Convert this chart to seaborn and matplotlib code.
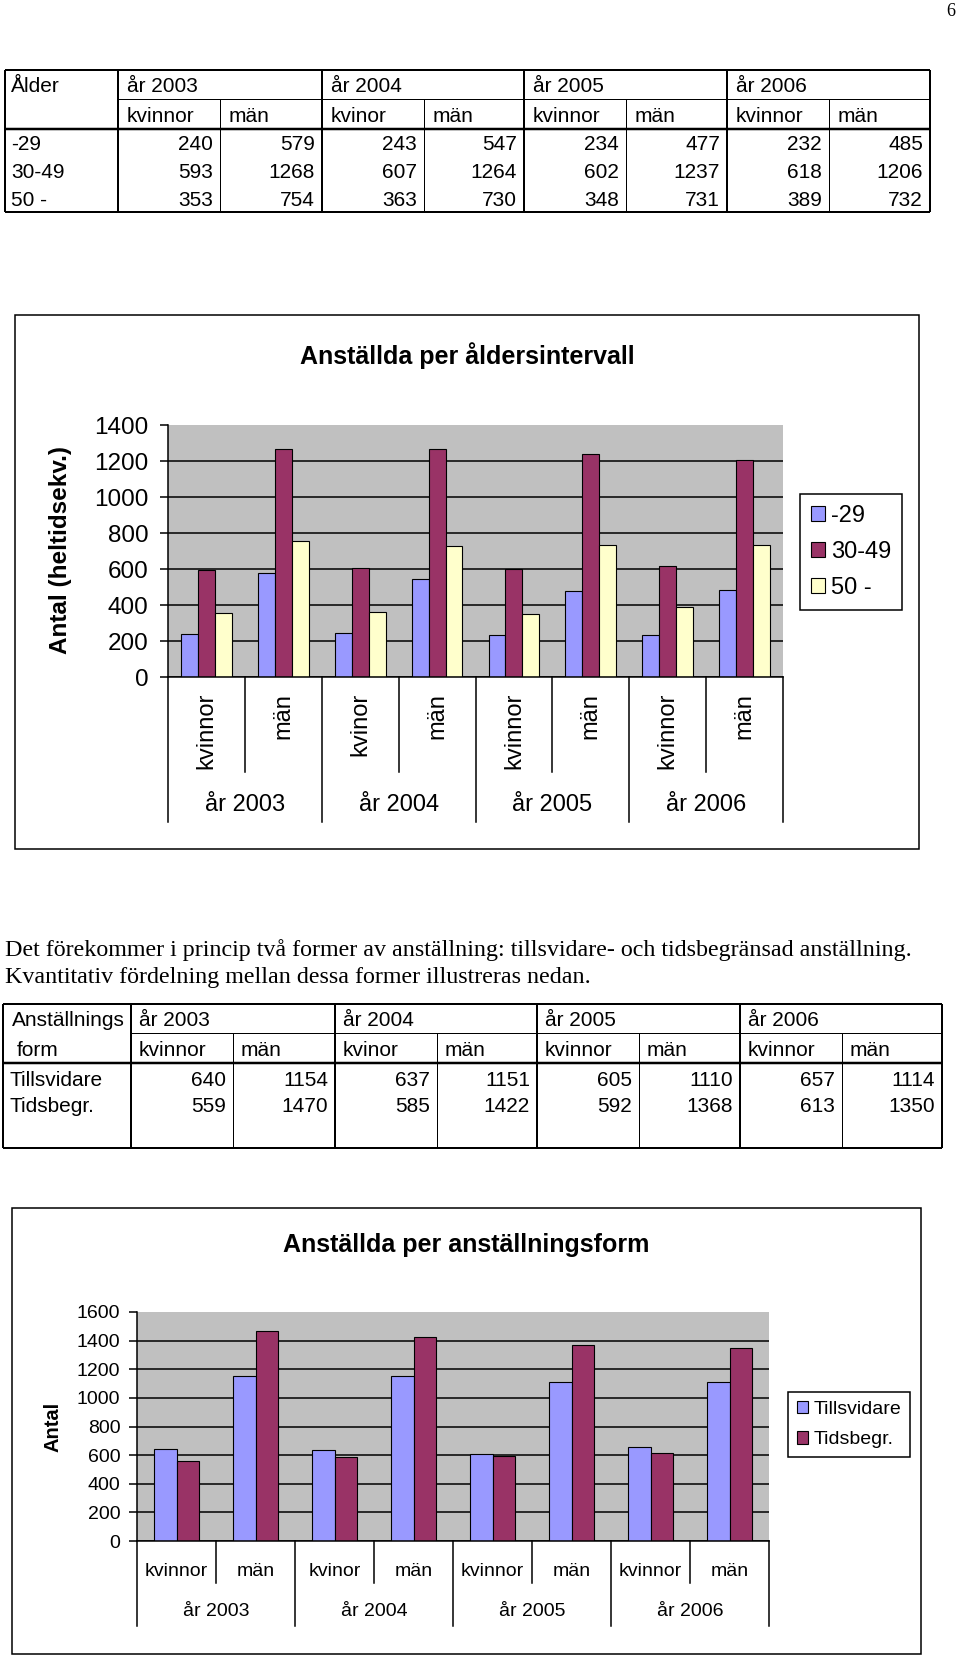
import matplotlib
matplotlib.use("Agg")
import matplotlib.pyplot as plt
from matplotlib import font_manager
from matplotlib.patches import Rectangle
import seaborn as sns
import pandas as pd

# --- data -------------------------------------------------------------
years = ["år 2003", "år 2004", "år 2005", "år 2006"]
kon = ["kvinnor", "män", "kvinor", "män", "kvinnor", "män", "kvinnor", "män"]

aldersgrupper = ["-29", "30-49", "50 -"]
alder_29 = [240, 579, 243, 547, 234, 477, 232, 485]
alder_30_49 = [593, 1268, 607, 1264, 602, 1237, 618, 1206]
alder_50 = [353, 754, 363, 730, 348, 731, 389, 732]

former = ["Tillsvidare", "Tidsbegr."]
tillsvidare = [640, 1154, 637, 1151, 605, 1110, 657, 1114]
tidsbegr = [559, 1470, 585, 1422, 592, 1368, 613, 1350]

text_rad1 = "Det förekommer i princip två former av anställning: tillsvidare- och tidsbegränsad anställning."
text_rad2 = "Kvantitativ fördelning mellan dessa former illustreras nedan."

# categories must be unique for seaborn, labels are drawn separately
kat = [f"{years[i // 2]} {kon[i]}" for i in range(len(kon))]

W, H = 960, 1657
names = {f.name for f in font_manager.fontManager.ttflist}
SANS = "Liberation Sans"
SERIF = "Liberation Serif"
NARROW = "Liberation Sans Narrow" if "Liberation Sans Narrow" in names else SANS
plt.rcParams["font.family"] = [SANS, "DejaVu Sans"]

fig = plt.figure(figsize=(W / 100, H / 100), dpi=100)
page = fig.add_axes([0, 0, 1, 1])
page.set_xlim(0, W)
page.set_ylim(H, 0)
page.axis("off")


def rect(x0, y0, x1, y1):
    return [x0 / W, 1 - y1 / H, (x1 - x0) / W, (y1 - y0) / H]


def line(x0, y0, x1, y1, px=1.0):
    page.plot([x0, x1], [y0, y1], color="black", lw=px * 0.72,
              solid_capstyle="butt")


def table(left, right, top, mid, head, bottom, cols, corner, rows_y,
          row_labels, values, fs=15, off=8):
    line(left, top, right, top, 2)
    line(left, bottom, right, bottom, 2)
    line(left, top, left, bottom, 2)
    line(right, top, right, bottom, 2)
    line(cols[0], mid, right, mid, 1)
    line(left, head, right, head, 2.5)
    for j, x in enumerate(cols):
        if j % 2 == 0:
            line(x, top, x, bottom, 2)
        else:
            line(x, mid, x, bottom, 1)
    for (cx, cy, s) in corner:
        page.text(cx, cy, s, va="center", fontsize=fs)
    for j in range(4):
        page.text(cols[2 * j] + off, (top + mid) / 2 + 2, years[j], va="center", fontsize=fs)
    for j, x in enumerate(cols):
        page.text(x + off, (mid + head) / 2 + 2, kon[j], va="center", fontsize=fs)
    edges = cols[1:] + [right]
    for r, (lab, vals) in enumerate(zip(row_labels, values)):
        page.text(left + 6, rows_y[r], lab, va="center", fontsize=fs)
        for j, v in enumerate(vals):
            page.text(edges[j] - 7, rows_y[r], str(v), va="center", ha="right", fontsize=fs)


# --- page number ------------------------------------------------------
page.text(955, 12, "6", ha="right", va="center", family=SERIF, fontsize=13)

# --- table 1 ----------------------------------------------------------
table(5, 930, 70, 99, 129, 212, [118, 220, 322, 424, 524, 626, 727, 829],
      [(11, 87, "Ålder")], [145, 172, 200], aldersgrupper,
      [alder_29, alder_30_49, alder_50], off=9)

# --- text -------------------------------------------------------------
page.text(5, 950, text_rad1, va="center", family=SERIF, fontsize=17.3)
page.text(5, 978, text_rad2, va="center", family=SERIF, fontsize=17.3)

# --- table 2 ----------------------------------------------------------
table(3, 942, 1004, 1033, 1063, 1148, [131, 233, 335, 437, 537, 639, 740, 842],
      [(12, 1021, "Anställnings"), (17, 1051, "form")], [1080, 1107], former,
      [tillsvidare, tidsbegr])


def chart(box, plot, title, title_xy, ylabel, ylabel_xy, ylabel_fs, df, groups,
          colors, width, ymax, fs, tick_fs, tick_pad, rotated, lab_y, year_y,
          sep_in, sep_out, leg_xy, leg_fs, leg_spacing):
    page.add_patch(Rectangle((box[0], box[1]), box[2] - box[0], box[3] - box[1],
                             facecolor="white", edgecolor="black", lw=1.1))
    page.text(*title_xy, title, ha="center", va="center", family=NARROW,
              fontweight="bold", fontsize=21.5 if NARROW != SANS else 18)
    page.text(*ylabel_xy, ylabel, rotation=90, ha="center", va="center",
              fontweight="heavy", fontsize=ylabel_fs)

    ax = fig.add_axes(rect(*plot))
    sns.barplot(data=df, x="kat", y="antal", hue="grupp", order=kat,
                hue_order=groups, palette=colors, width=width, saturation=1,
                edgecolor="black", linewidth=0.8, errorbar=None, ax=ax)
    ax.set_facecolor("#C0C0C0")
    ax.set_xlim(-0.5, len(kat) - 0.5)
    ax.set_ylim(0, ymax)
    ax.set_yticks(range(0, ymax + 1, 200))
    ax.set_axisbelow(True)
    ax.yaxis.grid(True, color="black", lw=1.1)
    ax.get_ygridlines()[-1].set_visible(False)
    ax.set_xlabel("")
    ax.set_ylabel("")
    ax.tick_params(axis="x", length=0, labelbottom=False)
    ax.tick_params(axis="y", length=6, width=1.1, direction="out",
                   labelsize=tick_fs, pad=tick_pad)
    for s in ("top", "right"):
        ax.spines[s].set_visible(False)
    for s in ("left", "bottom"):
        ax.spines[s].set_linewidth(1.1)
        ax.spines[s].set_color("black")

    tr = ax.get_xaxis_transform()
    for i, lab in enumerate(kon):
        if rotated:
            ax.text(i, lab_y, lab, rotation=90, ha="center", va="top",
                    transform=tr, fontsize=fs)
        else:
            ax.text(i, lab_y, lab, ha="center", va="center", transform=tr,
                    fontsize=fs)
    for j, y in enumerate(years):
        ax.text(2 * j + 0.5, year_y, y, ha="center", va="center", transform=tr,
                fontsize=fs)
    for i in range(len(kat) + 1):
        yb = sep_out if i % 2 == 0 else sep_in
        ax.plot([i - 0.5, i - 0.5], [0, yb], transform=tr, clip_on=False,
                color="black", lw=1.1)

    h, l = ax.get_legend_handles_labels()
    ax.get_legend().remove()
    leg = fig.legend(h, l, loc="upper left",
                     bbox_to_anchor=(leg_xy[0] / W, 1 - leg_xy[1] / H),
                     fontsize=leg_fs, handlelength=0.6, handleheight=0.6,
                     handletextpad=0.25, labelspacing=leg_spacing,
                     borderpad=0.45, borderaxespad=0, fancybox=False,
                     framealpha=1)
    leg.get_frame().set_edgecolor("black")
    leg.get_frame().set_linewidth(1.1)
    return ax


# --- chart 1 ----------------------------------------------------------
df1 = pd.DataFrame({
    "kat": kat * 3,
    "antal": alder_29 + alder_30_49 + alder_50,
    "grupp": [g for g in aldersgrupper for _ in kat],
})
chart((15, 315, 919, 849), (168, 425, 783, 677), "Anställda per åldersintervall",
      (467, 356), "Antal (heltidsekv.)", (60, 550), 17.5, df1, aldersgrupper,
      ["#9999FF", "#993366", "#FFFFCC"], 0.66, 1400, 17, 17.5, 8, True,
      -0.063, -0.508, -0.377, -0.575, (800, 494), 17, 0.6)

# --- chart 2 ----------------------------------------------------------
df2 = pd.DataFrame({
    "kat": kat * 2,
    "antal": tillsvidare + tidsbegr,
    "grupp": [g for g in former for _ in kat],
})
chart((12, 1208, 921, 1654), (137, 1312, 769, 1541), "Anställda per anställningsform",
      (466, 1245), "Antal", (53, 1427), 14.5, df2, former,
      ["#9999FF", "#993366"], 0.57, 1600, 14, 14, 6, False,
      -0.135, -0.31, -0.183, -0.371, (788, 1392), 14, 0.7)

fig.savefig("out.png", dpi=100)
